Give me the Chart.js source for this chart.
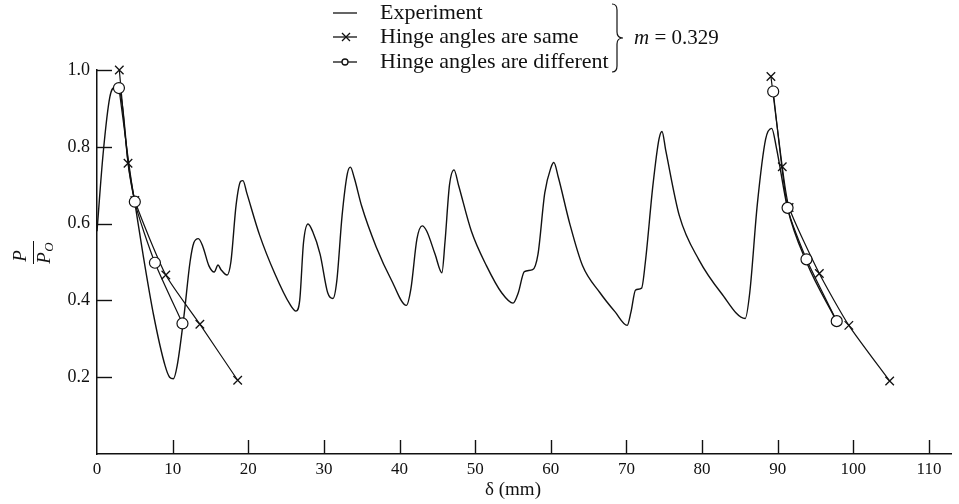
<!DOCTYPE html>
<html>
<head>
<meta charset="utf-8">
<script src="https://cdn.jsdelivr.net/npm/chart.js@4.4.1/dist/chart.umd.min.js"></script>
<style>
  html, body { margin: 0; padding: 0; background: #fff; }
  #wrap { width: 959px; height: 504px; position: relative; }
</style>
</head>
<body>
<div id="wrap"><canvas id="chart" width="959" height="504"></canvas></div>
<script>
// measured pressure ratio vs. displacement
const expX = [0, 0.8, 1.7, 2.4, 2.9, 3.4, 4.1, 5.0, 6.0, 7.5, 9.0, 9.6, 10.1, 10.6, 11.5, 12.3, 12.8, 13.4, 14.0, 14.8, 15.5, 16.0, 16.4, 17.2, 17.7, 18.4, 19.0, 19.3, 19.8, 21.5, 23.5, 25.5, 26.3, 26.8, 27.3, 27.9, 28.5, 29.5, 30.5, 31.2, 31.7, 32.4, 33.1, 33.5, 34.0, 35.0, 36.9, 39.0, 40.9, 41.5, 42.3, 43.0, 43.6, 44.7, 45.6, 46.0, 46.6, 47.2, 47.8, 49.5, 51.5, 53.5, 55.0, 55.7, 56.5, 57.6, 58.3, 59.2, 60.0, 60.4, 61.0, 62.5, 64.2, 66.5, 68.5, 70.1, 70.6, 71.2, 72.0, 72.5, 73.5, 74.3, 74.7, 75.2, 77.0, 79.6, 82.5, 85.7, 86.3, 87.3, 88.4, 89.2, 89.8, 91.3, 93.8, 97.8];
const expY = [0.58, 0.78, 0.93, 0.955, 0.953, 0.9, 0.762, 0.655, 0.53, 0.36, 0.23, 0.2, 0.196, 0.23, 0.36, 0.5, 0.55, 0.561, 0.54, 0.49, 0.474, 0.492, 0.48, 0.466, 0.5, 0.65, 0.71, 0.712, 0.68, 0.57, 0.47, 0.39, 0.372, 0.4, 0.55, 0.599, 0.58, 0.52, 0.42, 0.405, 0.45, 0.62, 0.73, 0.747, 0.72, 0.645, 0.54, 0.45, 0.387, 0.43, 0.56, 0.594, 0.58, 0.52, 0.472, 0.55, 0.7, 0.74, 0.7, 0.58, 0.49, 0.42, 0.393, 0.42, 0.475, 0.48, 0.52, 0.68, 0.745, 0.759, 0.72, 0.6, 0.49, 0.42, 0.37, 0.335, 0.37, 0.427, 0.432, 0.5, 0.7, 0.82, 0.84, 0.79, 0.62, 0.505, 0.42, 0.353, 0.42, 0.65, 0.82, 0.848, 0.8, 0.64, 0.5, 0.345];

// theory, hinge angles equal (null splits the two branches)
const sameX = [2.95, 4.1, 5.0, 9.1, 13.6, 18.6, 50, 89.1, 90.6, 91.5, 95.5, 99.4, 104.8];
const sameY = [1.0, 0.757, 0.66, 0.466, 0.338, 0.192, null, 0.983, 0.748, 0.642, 0.47, 0.335, 0.19];

// theory, hinge angles different
const diffX = [2.9, 5.0, 7.66, 11.3, 50, 89.4, 91.3, 93.8, 97.8];
const diffY = [0.953, 0.657, 0.498, 0.34, null, 0.944, 0.641, 0.507, 0.346];

const xTicks = [0, 10, 20, 30, 40, 50, 60, 70, 80, 90, 100, 110];
const yTicks = [0.2, 0.4, 0.6, 0.8, 1.0];

const SERIF = "'Liberation Serif', 'DejaVu Serif', 'Times New Roman', serif";
const INK = '#111';

function pts(xs, ys) {
  return xs.map((x, i) => ({ x: x, y: ys[i] }));
}

// inward tick marks, legend with brace, axis titles
const decor = {
  id: 'decor',
  afterDraw(chart) {
    const { ctx, chartArea: a, scales: { x, y } } = chart;
    ctx.save();
    ctx.strokeStyle = INK;
    ctx.fillStyle = INK;
    ctx.lineWidth = 1.4;

    xTicks.forEach(v => {
      if (v === 0) return;
      const px = Math.round(x.getPixelForValue(v)) + 0.5;
      ctx.beginPath();
      ctx.moveTo(px, a.bottom);
      ctx.lineTo(px, a.bottom - 14);
      ctx.stroke();
    });
    yTicks.forEach(v => {
      const py = Math.round(y.getPixelForValue(v)) + 0.5;
      ctx.beginPath();
      ctx.moveTo(a.left, py);
      ctx.lineTo(a.left + 15, py);
      ctx.stroke();
    });

    // legend
    ctx.lineWidth = 1.3;
    const lx0 = 333, lx1 = 357, tx = 380;
    const rows = [13, 37, 62];
    rows.forEach(ry => {
      ctx.beginPath();
      ctx.moveTo(lx0, ry);
      ctx.lineTo(lx1, ry);
      ctx.stroke();
    });
    // small cross
    ctx.beginPath();
    ctx.moveTo(342, 33); ctx.lineTo(350, 41);
    ctx.moveTo(350, 33); ctx.lineTo(342, 41);
    ctx.stroke();
    // small circle
    ctx.beginPath();
    ctx.arc(345, 62, 3, 0, Math.PI * 2);
    ctx.fillStyle = '#fff';
    ctx.fill();
    ctx.stroke();

    ctx.fillStyle = INK;
    ctx.font = '22px ' + SERIF;
    ctx.textBaseline = 'middle';
    ctx.textAlign = 'left';
    ctx.fillText('Experiment', tx, rows[0]);
    ctx.fillText('Hinge angles are same', tx, rows[1]);
    ctx.fillText('Hinge angles are different', tx, rows[2]);

    // right brace
    const bx = 617, bt = 4, bb = 72, bm = 38;
    ctx.lineWidth = 1.2;
    ctx.beginPath();
    ctx.moveTo(bx - 5, bt);
    ctx.quadraticCurveTo(bx, bt, bx, bt + 6);
    ctx.lineTo(bx, bm - 6);
    ctx.quadraticCurveTo(bx, bm, bx + 6, bm);
    ctx.quadraticCurveTo(bx, bm, bx, bm + 6);
    ctx.lineTo(bx, bb - 6);
    ctx.quadraticCurveTo(bx, bb, bx - 5, bb);
    ctx.stroke();

    ctx.font = 'italic 21px ' + SERIF;
    ctx.fillText('m', 634, bm);
    const mw = ctx.measureText('m').width;
    ctx.font = '21px ' + SERIF;
    ctx.fillText(' = 0.329', 634 + mw, bm);

    // x axis title
    ctx.textAlign = 'center';
    ctx.font = '19px ' + SERIF;
    ctx.fillText('\u03b4 (mm)', x.getPixelForValue(55), 490);

    // y axis title: P over P_O, rotated
    ctx.translate(33, 252);
    ctx.rotate(-Math.PI / 2);
    ctx.textAlign = 'center';
    ctx.font = 'italic 19px ' + SERIF;
    ctx.fillText('P', -4, -12);
    ctx.fillText('P', -6, 12);
    ctx.font = 'italic 13px ' + SERIF;
    ctx.fillText('O', 5, 17);
    ctx.lineWidth = 1;
    ctx.beginPath();
    ctx.moveTo(-12, 0.5);
    ctx.lineTo(11, 0.5);
    ctx.stroke();
    ctx.restore();
  }
};

new Chart(document.getElementById('chart'), {
  type: 'line',
  data: {
    datasets: [
      {
        label: 'Hinge angles are different',
        data: pts(diffX, diffY),
        order: 0,
        borderColor: INK,
        borderWidth: 1.2,
        tension: 0.2,
        spanGaps: false,
        pointStyle: 'circle',
        pointRadius: 5.5,
        pointBackgroundColor: '#fff',
        pointBorderColor: INK,
        pointBorderWidth: 1.2,
        clip: false
      },
      {
        label: 'Hinge angles are same',
        data: pts(sameX, sameY),
        order: 1,
        borderColor: INK,
        borderWidth: 1.2,
        tension: 0.2,
        spanGaps: false,
        pointStyle: 'crossRot',
        pointRadius: 6,
        pointBorderColor: INK,
        pointBorderWidth: 1.3,
        clip: false
      },
      {
        label: 'Experiment',
        data: pts(expX, expY),
        order: 2,
        borderColor: INK,
        borderWidth: 1.4,
        cubicInterpolationMode: 'monotone',
        pointRadius: 0,
        clip: false
      }
    ]
  },
  options: {
    responsive: false,
    animation: false,
    events: [],
    layout: { padding: { top: 70, right: 6, left: 0, bottom: 0 } },
    plugins: { legend: { display: false }, tooltip: { enabled: false } },
    scales: {
      x: {
        type: 'linear',
        min: 0,
        max: 113,
        afterFit(s) { s.height = 50; },
        afterBuildTicks(s) { s.ticks = xTicks.map(v => ({ value: v })); },
        grid: { display: false, drawTicks: false },
        border: { display: true, color: INK, width: 1.5 },
        ticks: { color: INK, padding: 5, font: { family: SERIF, size: 17 }, maxRotation: 0, autoSkip: false }
      },
      y: {
        type: 'linear',
        min: 0,
        max: 1.0,
        afterFit(s) { s.width = 97; },
        afterBuildTicks(s) { s.ticks = yTicks.map(v => ({ value: v })); },
        grid: { display: false, drawTicks: false },
        border: { display: true, color: INK, width: 1.5 },
        ticks: { color: INK, padding: 7, font: { family: SERIF, size: 18 }, callback: v => v.toFixed(1) }
      }
    }
  },
  plugins: [decor]
});
</script>
</body>
</html>
